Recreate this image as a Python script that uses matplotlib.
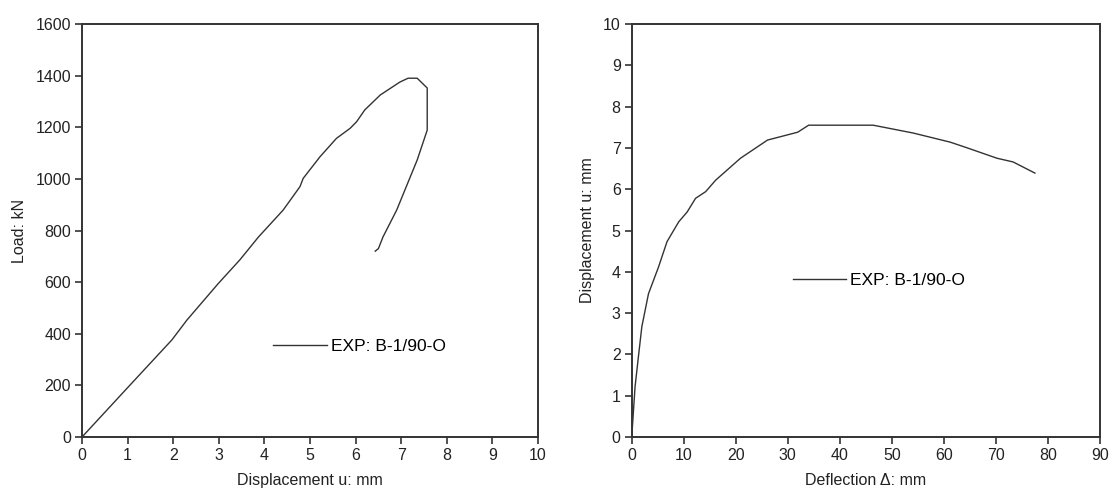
import matplotlib.pyplot as plt

plt.rcParams['font.family'] = ['Liberation Sans', 'DejaVu Sans']

# left panel: load vs displacement
disp_u = [0, 1.02, 1.97, 2.3, 2.99, 3.46, 3.87, 4.41, 4.78, 4.85, 5.22, 5.58, 5.88, 6.02,
          6.2, 6.54, 6.97, 7.15, 7.35, 7.57, 7.57, 7.35, 6.9, 6.6, 6.5, 6.43]
load = [0, 195, 376, 453, 595, 686, 775, 879, 970, 1002, 1086, 1157, 1196, 1221,
        1267, 1325, 1375, 1390, 1390, 1352, 1189, 1073, 879, 775, 730, 720]

# right panel: displacement vs deflection
deflection = [0, 0.64, 1.28, 1.94, 3.22, 5.16, 6.78, 9.03, 10.66, 12.27, 14.2, 16.14,
              20.9, 26.1, 31.9, 34.0, 46.4, 54.1, 61.2, 64.5, 70.2, 73.3, 77.5]
disp_r = [0, 1.22, 1.94, 2.67, 3.47, 4.12, 4.73, 5.21, 5.45, 5.78, 5.94, 6.22,
          6.75, 7.19, 7.38, 7.55, 7.55, 7.36, 7.14, 7.0, 6.75, 6.66, 6.39]

label = 'EXP: B-1/90-O'
axis_col = '#333333'

fig = plt.figure(figsize=(11.13, 4.92), dpi=100)
ax1 = fig.add_axes([0.0737, 0.1118, 0.4097, 0.8394])
ax2 = fig.add_axes([0.5676, 0.1118, 0.4207, 0.8394])


def style(ax):
    for s in ax.spines.values():
        s.set_color(axis_col)
        s.set_linewidth(1.4)
    ax.tick_params(direction='out', length=5, width=1.2, color=axis_col,
                   labelsize=11.5, labelcolor='#222222', top=False, right=False, pad=3)


ax1.plot(disp_u, load, color='#333333', lw=1.0, label=label)
ax1.set_xlim(0, 10)
ax1.set_ylim(0, 1600)
ax1.set_xticks(range(0, 11))
ax1.set_yticks(range(0, 1601, 200))
ax1.set_xlabel('Displacement u: mm', fontsize=11.5, color='#222222', labelpad=7)
ax1.set_ylabel('Load: kN', fontsize=11.5, color='#222222', labelpad=6)
ax1.legend(loc='center left', bbox_to_anchor=(0.385, 0.22), frameon=False,
           handlelength=3.1, handletextpad=0.2, fontsize=12.5)
style(ax1)

ax2.plot(deflection, disp_r, color='#333333', lw=1.0, label=label)
ax2.set_xlim(0, 90)
ax2.set_ylim(0, 10)
ax2.set_xticks(range(0, 91, 10))
ax2.set_yticks(range(0, 11))
ax2.set_xlabel('Deflection \u0394: mm', fontsize=11.5, color='#222222', labelpad=7)
ax2.set_ylabel('Displacement u: mm', fontsize=11.5, color='#222222', labelpad=6)
ax2.legend(loc='center left', bbox_to_anchor=(0.31, 0.38), frameon=False,
           handlelength=3.1, handletextpad=0.2, fontsize=12.5)
style(ax2)

fig.savefig('out.png', dpi=100)
